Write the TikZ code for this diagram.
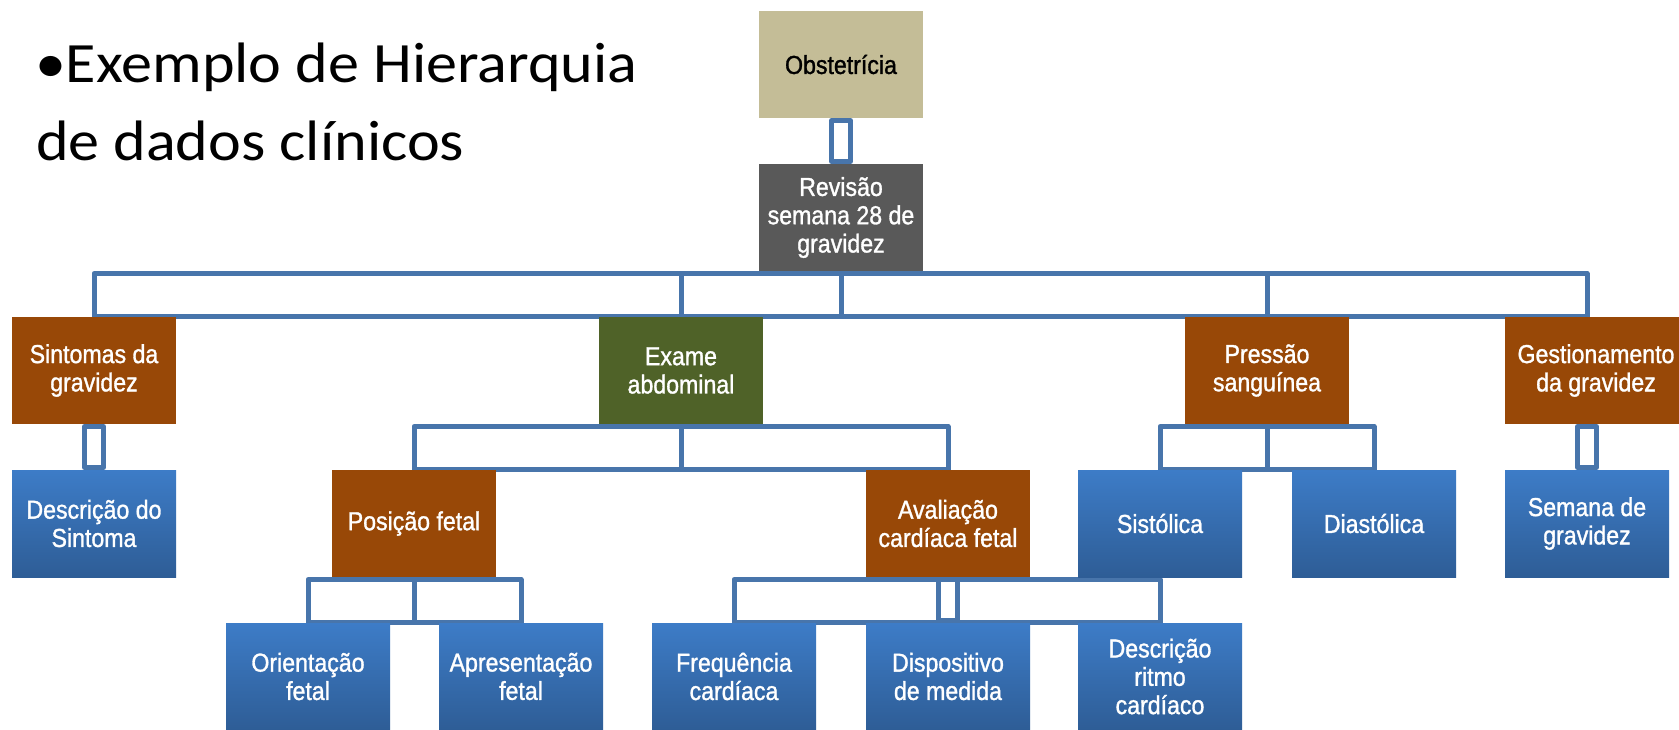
\documentclass[tikz,border=0pt]{standalone}
\usepackage{fontspec}
\usetikzlibrary{backgrounds}
\newfontfamily\boxfont[FakeStretch=0.89,FakeBold=1.2]{Liberation Sans}
\newfontfamily\titlefont[FakeStretch=1.09]{Carlito}
\definecolor{cTan}{RGB}{196,189,151}
\definecolor{cGray}{RGB}{89,89,89}
\definecolor{cBrown}{RGB}{152,72,7}
\definecolor{cOlive}{RGB}{79,98,40}
\definecolor{cBlueTop}{RGB}{61,124,199}
\definecolor{cBlueBot}{RGB}{46,93,150}
\definecolor{cLine}{RGB}{72,117,171}
\begin{document}
\begin{tikzpicture}[x=1pt,y=-1pt,
  box/.style={rectangle, minimum width=164pt, minimum height=107pt, inner sep=0pt, outer sep=0pt, align=center, font=\boxfont\fontsize{26}{28.3}\selectfont, text=white},
  tanbox/.style={box, fill=cTan, text=black},
  graybox/.style={box, fill=cGray},
  brownbox/.style={box, fill=cBrown},
  olivebox/.style={box, fill=cOlive},
  leafbox/.style={box, top color=cBlueTop, bottom color=cBlueBot},
  conn/.style={draw=cLine, fill=white, line width=5pt, line join=round},
  titletext/.style={anchor=base west, inner sep=0pt, outer sep=0pt, font=\titlefont\fontsize{57}{77}\selectfont}]
\useasboundingbox (0,0) rectangle (1679,729);

\node[titletext] (t1) at (35,82) {•Exemplo de Hierarquia};
\node[titletext] (t2) at (36,160) {de dados clínicos};

\node[tanbox] (obst) at (841,64.5) {Obstetrícia};
\node[graybox] (rev) at (841,217.5) {Revisão\\semana 28 de\\gravidez};
\node[brownbox] (sint) at (94,370.5) {Sintomas da\\gravidez};
\node[olivebox] (exame) at (681,370.5) {Exame\\abdominal};
\node[brownbox] (press) at (1267,370.5) {Pressão\\sanguínea};
\node[brownbox, minimum width=182pt] (gest) at (1596,370.5) {Gestionamento\\da gravidez};
\node[leafbox] (desc) at (94,523.5) {Descrição do\\Sintoma};
\node[brownbox] (pos) at (414,523.5) {Posição fetal};
\node[brownbox] (aval) at (948,523.5) {Avaliação\\cardíaca fetal};
\node[leafbox] (sist) at (1160,523.5) {Sistólica};
\node[leafbox] (diast) at (1374,523.5) {Diastólica};
\node[leafbox] (sem) at (1587,523.5) {Semana de\\gravidez};
\node[leafbox] (orient) at (308,676.5) {Orientação\\fetal};
\node[leafbox] (apres) at (521,676.5) {Apresentação\\fetal};
\node[leafbox] (freq) at (734,676.5) {Frequência\\cardíaca};
\node[leafbox] (disp) at (948,676.5) {Dispositivo\\de medida};
\node[leafbox] (ritmo) at (1160,676.5) {Descrição\\ritmo\\cardíaco};

\coordinate (gtop) at (gest.north -| sem.north);
\coordinate (gbot) at (gest.south -| sem.north);

\begin{scope}[on background layer]
\fill[white] (0,0) rectangle (1679,729);
% Obstetricia -> Revisao
\draw[conn] ([xshift=-9.5pt,yshift=-2.5pt]obst.south) rectangle ([xshift=9.5pt,yshift=2.5pt]rev.north);
% top bus
\draw[conn] ([yshift=-2.5pt]rev.south) rectangle ([yshift=1pt]sint.north);
\draw[conn] ([yshift=-2.5pt]rev.south) rectangle ([yshift=1pt]gtop);
\draw[conn] ([yshift=-2.5pt]rev.south) rectangle ([yshift=1pt]exame.north);
\draw[conn] ([yshift=-2.5pt]rev.south) rectangle ([yshift=1pt]press.north);
% Sintomas -> Descricao
\draw[conn] ([xshift=-9.5pt,yshift=-2.5pt]sint.south) rectangle ([xshift=9.5pt,yshift=2.5pt]desc.north);
% Exame bus
\draw[conn] ([yshift=-2.5pt]exame.south) rectangle ([yshift=1pt]pos.north);
\draw[conn] ([yshift=-2.5pt]exame.south) rectangle ([yshift=1pt]aval.north);
% Pressao bus
\draw[conn] ([yshift=-2.5pt]press.south) rectangle ([yshift=1pt]sist.north);
\draw[conn] ([yshift=-2.5pt]press.south) rectangle ([yshift=1pt]diast.north);
% Gestionamento -> Semana
\draw[conn] ([xshift=-9.5pt,yshift=-2.5pt]gbot) rectangle ([xshift=9.5pt,yshift=2.5pt]sem.north);
% Posicao bus
\draw[conn] ([yshift=-2.5pt]pos.south) rectangle ([yshift=1pt]orient.north);
\draw[conn] ([yshift=-2.5pt]pos.south) rectangle ([yshift=1pt]apres.north);
% Avaliacao bus
\draw[conn] ([yshift=-2.5pt]aval.south) rectangle ([yshift=1pt]freq.north);
\draw[conn] ([yshift=-2.5pt]aval.south) rectangle ([yshift=1pt]ritmo.north);
\draw[conn] ([xshift=-9.5pt,yshift=-2.5pt]aval.south) rectangle ([xshift=9.5pt,yshift=2.5pt]disp.north);
\end{scope}
\end{tikzpicture}
\end{document}
